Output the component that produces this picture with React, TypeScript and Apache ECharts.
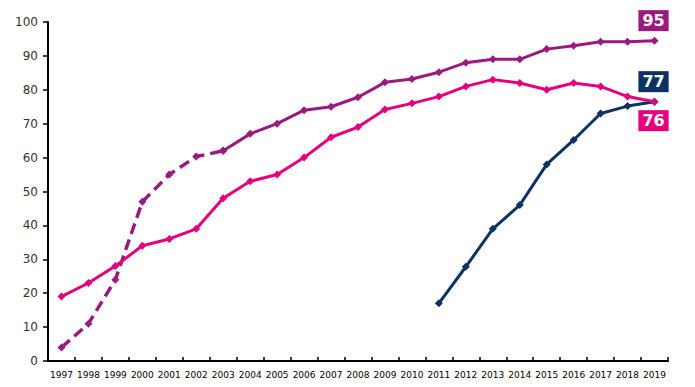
import React, { useEffect, useRef } from "react";
import * as echarts from "echarts";

const years = ["1997","1998","1999","2000","2001","2002","2003","2004","2005","2006","2007","2008","2009","2010","2011","2012","2013","2014","2015","2016","2017","2018","2019"];
const purpleDashed: (number | null)[] = [4, 11, 24, 47, 55, 60.3, 62, null, null, null, null, null, null, null, null, null, null, null, null, null, null, null, null];
const purpleSolid: (number | null)[] = [null, null, null, null, null, null, 62, 67, 70, 74, 75, 77.8, 82.2, 83.2, 85.2, 88, 89, 89, 92, 93, 94.2, 94.2, 94.5];
const pinkValues: number[] = [19, 23, 28, 34, 36, 39, 48, 53, 55, 60, 66, 69, 74.2, 76, 78, 81, 83, 82, 80, 82, 81, 78, 76.5];
const navyValues: (number | null)[] = [null, null, null, null, null, null, null, null, null, null, null, null, null, null, 17, 27.8, 39, 46, 58, 65.2, 73, 75.2, 76.5];
const yTicks = [0, 10, 20, 30, 40, 50, 60, 70, 80, 90, 100];
const endLabels = { purple: "95", navy: "77", pink: "76" };

const PURPLE = "#9B1A80";
const PINK = "#E5007D";
const NAVY = "#0B3263";

function withEndLabel(values: (number | null)[], text: string, color: string, offsetY: number) {
  return values.map((v, i) =>
    i === values.length - 1 && v != null
      ? {
          value: v,
          label: {
            show: true,
            position: "inside",
            offset: [-1, offsetY],
            formatter: text,
            backgroundColor: color,
            color: "#fff",
            fontWeight: "bold",
            fontSize: 16,
            fontFamily: "DejaVu Sans",
            lineHeight: 17,
            padding: [2, 4, 2, 4],
          },
        }
      : v
  );
}

export default function App() {
  const ref = useRef<HTMLDivElement>(null);
  useEffect(() => {
    if (!ref.current) return;
    const chart = echarts.init(ref.current, null, { renderer: "svg" });
    const lineCommon = {
      type: "line",
      symbol: "diamond",
      symbolSize: 8,
      connectNulls: false,
    };
    chart.setOption({
      animation: false,
      backgroundColor: "#fff",
      grid: { left: 48, right: 27, top: 22, bottom: 26, containLabel: false },
      xAxis: {
        type: "category",
        data: years,
        boundaryGap: true,
        axisLine: { lineStyle: { color: "#000", width: 2 } },
        axisTick: { show: true, inside: true, length: 4, lineStyle: { color: "#000", width: 1.5 } },
        axisLabel: { color: "#000", fontSize: 9, fontFamily: "DejaVu Sans", margin: 9, interval: 0 },
        splitLine: { show: false },
      },
      yAxis: {
        type: "value",
        min: yTicks[0],
        max: yTicks[yTicks.length - 1],
        interval: 10,
        axisLine: { show: true, lineStyle: { color: "#000", width: 2 } },
        axisTick: { show: true, inside: false, length: 5, lineStyle: { color: "#000", width: 1.5 } },
        axisLabel: { color: "#333", fontSize: 12, fontFamily: "DejaVu Sans", margin: 10 },
        splitLine: { show: false },
      },
      series: [
        {
          ...lineCommon,
          name: "purple dashed",
          data: purpleDashed,
          itemStyle: { color: PURPLE },
          lineStyle: { width: 3.5, color: PURPLE, type: [11, 6] },
          z: 3,
        },
        {
          ...lineCommon,
          name: "purple",
          data: withEndLabel(purpleSolid, endLabels.purple, PURPLE, -20),
          itemStyle: { color: PURPLE },
          lineStyle: { width: 3, color: PURPLE },
          z: 3,
        },
        {
          ...lineCommon,
          name: "pink",
          data: withEndLabel(pinkValues, endLabels.pink, PINK, 19),
          itemStyle: { color: PINK },
          lineStyle: { width: 3, color: PINK },
          z: 4,
        },
        {
          ...lineCommon,
          name: "navy",
          data: withEndLabel(navyValues, endLabels.navy, NAVY, -20),
          itemStyle: { color: NAVY },
          lineStyle: { width: 3, color: NAVY },
          z: 2,
        },
      ],
    });
    return () => chart.dispose();
  }, []);
  return <div ref={ref} style={{ width: 695, height: 387, margin: -8 }} />;
}
